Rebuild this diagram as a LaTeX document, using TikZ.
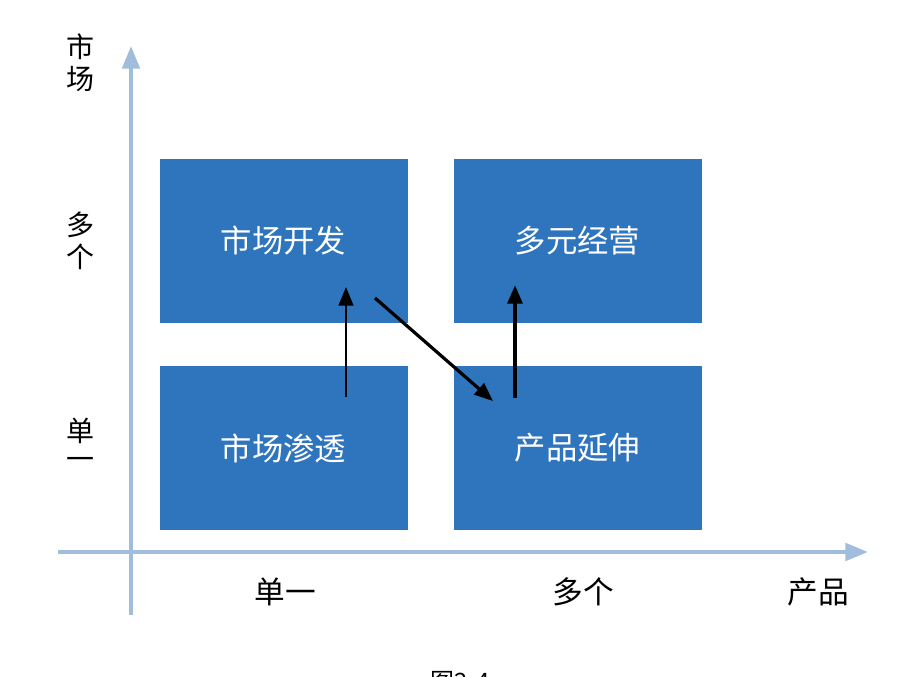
\documentclass[tikz,border=0pt]{standalone}
\usepackage{fontspec}
\newfontfamily\cjk{Noto Sans CJK SC}
\usetikzlibrary{arrows.meta}
\definecolor{boxblue}{RGB}{46,117,190}
\definecolor{axisblue}{RGB}{160,190,220}
\tikzset{
  quad/.style={fill=boxblue, draw=none, minimum width=186pt, minimum height=123pt, inner sep=0pt, text=white, font=\cjk\fontsize{23.5}{23.5}\selectfont},
  axislabel/.style={font=\cjk\fontsize{23}{23}\selectfont, text=black, inner sep=0pt},
  vlabel/.style={font=\cjk\fontsize{21}{21}\selectfont, text=black, inner sep=0pt},
  axisline/.style={draw=axisblue, line width=3pt, -{Triangle[length=17pt,width=13pt]}},
  moveline/.style={draw=black, -{Triangle[length=14pt,width=11pt]}}
}
\begin{document}
\begin{tikzpicture}[x=0.75pt,y=-0.75pt]
\useasboundingbox (0,0) rectangle (900,676);
\fill[white] (0,0) rectangle (900,676);
% axes
\coordinate (xs) at (58,552);
\coordinate (xe) at (868,552);
\coordinate (ys) at (131,615);
\coordinate (ye) at (131,46);
\draw[axisline] (xs) -- (xe);
\draw[axisline] (ys) -- (ye);
% boxes
\node[quad] (dev) at (283.5,241) {市场开发};
\node[quad] (div) at (577.5,241) {多元经营};
\node[quad] (pen) at (283.5,448) {市场渗透};
\node[quad] (ext) at (577.5,448) {产品延伸};
% axis labels
\node[vlabel] (mk1) at (80,47) {市};
\node[vlabel] (mk2) at (80,79) {场};
\node[vlabel] (mu1) at (80,225) {多};
\node[vlabel] (mu2) at (80,257) {个};
\node[vlabel] (si1) at (80,431) {单};
\node[vlabel] (si2) at (80,463) {一};
\node[axislabel] (xsingle) at (285,592) {单一};
\node[axislabel] (xmulti) at (583,592) {多个};
\node[axislabel] (prod) at (818,592) {产品};
\node[font=\cjk\fontsize{18}{18}\selectfont, anchor=north, inner sep=0pt] (cap) at (460,671) {图2-4};
% movement arrows
\coordinate (a1s) at (346,397);
\coordinate (a1e) at (346,287);
\coordinate (a2s) at (375,298);
\coordinate (a2e) at (493,401);
\coordinate (a3s) at (515,398);
\coordinate (a3e) at (515,285);
\draw[moveline, line width=1.8pt] (a1s) -- (a1e);
\draw[moveline, line width=2.4pt] (a2s) -- (a2e);
\draw[moveline, line width=3pt] (a3s) -- (a3e);
\end{tikzpicture}
\end{document}
